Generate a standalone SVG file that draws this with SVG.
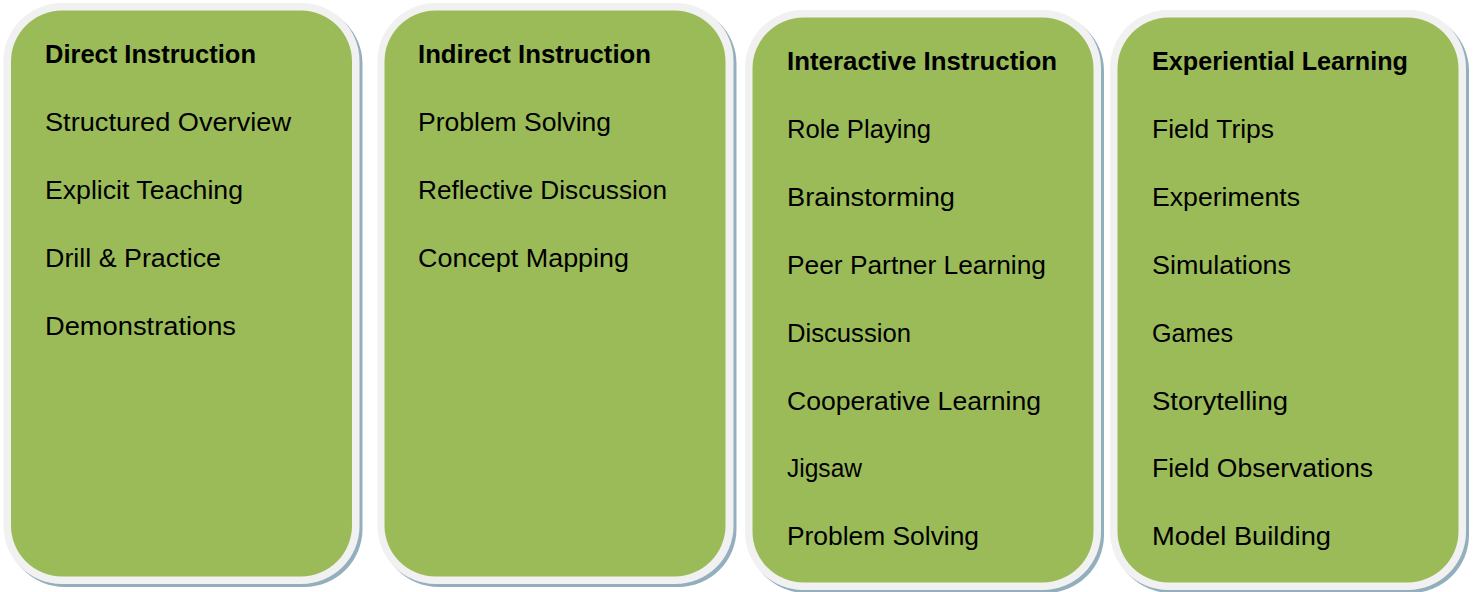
<svg xmlns="http://www.w3.org/2000/svg" width="1474" height="592" viewBox="0 0 1474 592">
<style>
.shadow{fill:#93afbd}
.outer{fill:#f1f1f1}
.inner{fill:#9bbb59}
text{font-family:"Liberation Sans",Arial,sans-serif;font-size:26px;fill:#000}
.title{font-weight:bold}
</style>
<rect width="1474" height="592" fill="#fff"/>
<g id="direct-instruction">
<rect class="shadow" x="6.5" y="6" width="356" height="581" rx="58"/>
<rect class="outer" x="3.5" y="3" width="356" height="581" rx="58"/>
<rect class="inner" x="11" y="10.5" width="341" height="566" rx="51"/>
<text class="title" x="45" y="63" textLength="211" lengthAdjust="spacingAndGlyphs">Direct Instruction</text>
<text x="45" y="131" textLength="246" lengthAdjust="spacingAndGlyphs">Structured Overview</text>
<text x="45" y="199" textLength="198" lengthAdjust="spacingAndGlyphs">Explicit Teaching</text>
<text x="45" y="267" textLength="176" lengthAdjust="spacingAndGlyphs">Drill &amp; Practice</text>
<text x="45" y="335" textLength="191" lengthAdjust="spacingAndGlyphs">Demonstrations</text>
</g>
<g id="indirect-instruction">
<rect class="shadow" x="380.5" y="6" width="356" height="581" rx="58"/>
<rect class="outer" x="377.5" y="3" width="356" height="581" rx="58"/>
<rect class="inner" x="384.5" y="10.5" width="341" height="566" rx="51"/>
<text class="title" x="418" y="63" textLength="233" lengthAdjust="spacingAndGlyphs">Indirect Instruction</text>
<text x="418" y="131" textLength="193" lengthAdjust="spacingAndGlyphs">Problem Solving</text>
<text x="418" y="199" textLength="249" lengthAdjust="spacingAndGlyphs">Reflective Discussion</text>
<text x="418" y="267" textLength="211" lengthAdjust="spacingAndGlyphs">Concept Mapping</text>
</g>
<g id="interactive-instruction">
<rect class="shadow" x="748" y="13" width="356" height="580" rx="58"/>
<rect class="outer" x="745" y="10" width="356" height="580" rx="58"/>
<rect class="inner" x="752.5" y="17.5" width="341" height="565" rx="51"/>
<text class="title" x="787" y="70" textLength="270" lengthAdjust="spacingAndGlyphs">Interactive Instruction</text>
<text x="787" y="138" textLength="144" lengthAdjust="spacingAndGlyphs">Role Playing</text>
<text x="787" y="206" textLength="168" lengthAdjust="spacingAndGlyphs">Brainstorming</text>
<text x="787" y="274" textLength="259" lengthAdjust="spacingAndGlyphs">Peer Partner Learning</text>
<text x="787" y="342" textLength="124" lengthAdjust="spacingAndGlyphs">Discussion</text>
<text x="787" y="410" textLength="254" lengthAdjust="spacingAndGlyphs">Cooperative Learning</text>
<text x="787" y="477" textLength="75" lengthAdjust="spacingAndGlyphs">Jigsaw</text>
<text x="787" y="545" textLength="192" lengthAdjust="spacingAndGlyphs">Problem Solving</text>
</g>
<g id="experiential-learning">
<rect class="shadow" x="1113" y="13" width="356" height="580" rx="58"/>
<rect class="outer" x="1110" y="10" width="356" height="580" rx="58"/>
<rect class="inner" x="1117.5" y="17.5" width="341" height="565" rx="51"/>
<text class="title" x="1152" y="70" textLength="256" lengthAdjust="spacingAndGlyphs">Experiential Learning</text>
<text x="1152" y="138" textLength="122" lengthAdjust="spacingAndGlyphs">Field Trips</text>
<text x="1152" y="206" textLength="148" lengthAdjust="spacingAndGlyphs">Experiments</text>
<text x="1152" y="274" textLength="139" lengthAdjust="spacingAndGlyphs">Simulations</text>
<text x="1152" y="342" textLength="81" lengthAdjust="spacingAndGlyphs">Games</text>
<text x="1152" y="410" textLength="136" lengthAdjust="spacingAndGlyphs">Storytelling</text>
<text x="1152" y="477" textLength="221" lengthAdjust="spacingAndGlyphs">Field Observations</text>
<text x="1152" y="545" textLength="179" lengthAdjust="spacingAndGlyphs">Model Building</text>
</g>
<g id="connectors"/>
</svg>
